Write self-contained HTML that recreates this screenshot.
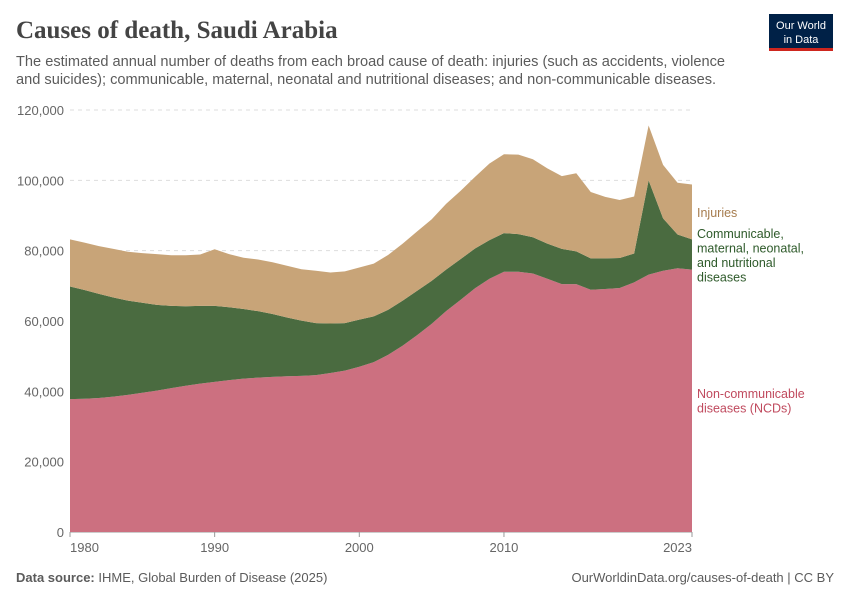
<!DOCTYPE html>
<html><head><meta charset="utf-8"><style>
body{margin:0;background:#fff;width:850px;height:600px;overflow:hidden;font-family:"Liberation Sans",sans-serif}
</style></head><body>
<svg width="850" height="600" xmlns="http://www.w3.org/2000/svg">
<text x="16" y="38" font-family="Liberation Serif,serif" font-size="25" font-weight="bold" fill="#444">Causes of death, Saudi Arabia</text>
<text font-size="14.6" fill="#5b5b5b"><tspan x="16" y="66">The estimated annual number of deaths from each broad cause of death: injuries (such as accidents, violence</tspan><tspan x="16" y="84">and suicides); communicable, maternal, neonatal and nutritional diseases; and non-communicable diseases.</tspan></text>
<g><rect x="769" y="14" width="64" height="36" fill="#002147"/><rect x="769" y="48" width="64" height="3" fill="#ce261e"/>
<text x="801" y="29" font-size="11" fill="#fff" text-anchor="middle">Our World</text><text x="801" y="43" font-size="11" fill="#fff" text-anchor="middle">in Data</text></g>
<g id="grid"></g><g id="areas"></g><g id="axes"></g><g id="legend"></g>
<text x="16" y="582" font-size="13" fill="#5b5b5b"><tspan font-weight="bold">Data source:</tspan> IHME, Global Burden of Disease (2025)</text>
<text x="834" y="582" font-size="13" fill="#5b5b5b" text-anchor="end">OurWorldinData.org/causes-of-death | CC BY</text>
</svg>
<script>
const years=[];for(let y=1980;y<=2023;y++)years.push(y);
const ncd=[37.8,37.9,38.1,38.5,39.0,39.6,40.2,40.9,41.6,42.2,42.7,43.2,43.6,43.9,44.1,44.3,44.4,44.6,45.2,45.9,47.0,48.3,50.4,53.0,56.0,59.2,62.8,66.0,69.3,72.0,74.0,74.0,73.5,72.0,70.5,70.5,68.9,69.1,69.4,71.0,73.2,74.3,75.0,74.6];
const communicable=[32.0,30.9,29.6,28.2,26.8,25.6,24.4,23.4,22.6,22.1,21.6,20.7,19.8,18.9,17.9,16.7,15.7,14.8,14.1,13.5,13.4,13.0,12.8,12.8,12.6,12.2,11.8,11.6,11.3,11.0,11.0,10.7,10.3,10.0,10.0,9.3,8.9,8.7,8.5,8.2,26.8,14.9,9.6,8.6];
const injuries=[13.4,13.5,13.6,13.8,13.9,14.1,14.4,14.4,14.5,14.6,16.1,15.1,14.6,14.7,14.7,14.7,14.6,14.9,14.5,14.7,14.8,15.0,15.6,16.2,16.9,17.5,18.7,19.4,20.4,21.8,22.4,22.6,22.2,21.4,20.7,22.2,18.9,17.5,16.5,16.2,15.6,15.2,14.7,15.6];
const yTicks=[0,20000,40000,60000,80000,100000,120000];
const xTicks=[1980,1990,2000,2010,2023];
const NS="http://www.w3.org/2000/svg";
const x=v=>70+(v-1980)*(622/43);
const y=v=>532-v/120000*422;
function el(t,a,p){const e=document.createElementNS(NS,t);for(const k in a)e.setAttribute(k,a[k]);document.getElementById(p).appendChild(e);return e;}
yTicks.forEach(t=>{
 const l=el('line',{x1:70,x2:692,y1:y(t),y2:y(t),stroke:t?'#ddd':'#999','stroke-dasharray':t?'4,4':''},'grid');
 
 
 const tx=el('text',{x:64,y:y(t)+5,'font-size':13,fill:'#666','text-anchor':'end'},'axes');tx.textContent=t.toLocaleString('en-US');
 
 
});
xTicks.forEach((t,i)=>{
 const anchor=i===0?'start':(i===xTicks.length-1?'end':'middle');
 const tx=el('text',{x:x(t),y:552,'font-size':13,fill:'#666','text-anchor':anchor},'axes');tx.textContent=t;
 
 
 const tk=el('line',{x1:x(t),x2:x(t),y1:532,y2:537,stroke:'#999'},'axes');
 
 
});
const series=[[ncd,'#cc7080','ncd-area'],[communicable,'#4a6b40','communicable-area'],[injuries,'#c8a478','injuries-area']];
let base=years.map(()=>0);
series.forEach(([arr,c,n])=>{
 const top=base.map((b,i)=>b+arr[i]*1000);
 let d='M'+years.map((yr,i)=>x(yr)+','+y(top[i])).join('L');
 for(let i=years.length-1;i>=0;i--)d+='L'+x(years[i])+','+y(base[i]);
 const p=el('path',{d:d+'Z',fill:c},'areas');
 
 
 base=top;
});
const leg=[[['Injuries'],217,'#a67c4e','legend-injuries'],[['Communicable,','maternal, neonatal,','and nutritional','diseases'],238,'#2e5a2a','legend-communicable'],[['Non-communicable','diseases (NCDs)'],398,'#c04a5e','legend-ncd']];
leg.forEach(([lines,yy,c,n])=>{
 const t=el('text',{x:697,y:yy,'font-size':12.5,fill:c},'legend');
 
 
 lines.forEach((s,i)=>{const ts=document.createElementNS(NS,'tspan');ts.setAttribute('x',697);ts.setAttribute('y',yy+i*14.5);ts.textContent=s;t.appendChild(ts);});
});
</script>
</body></html>
